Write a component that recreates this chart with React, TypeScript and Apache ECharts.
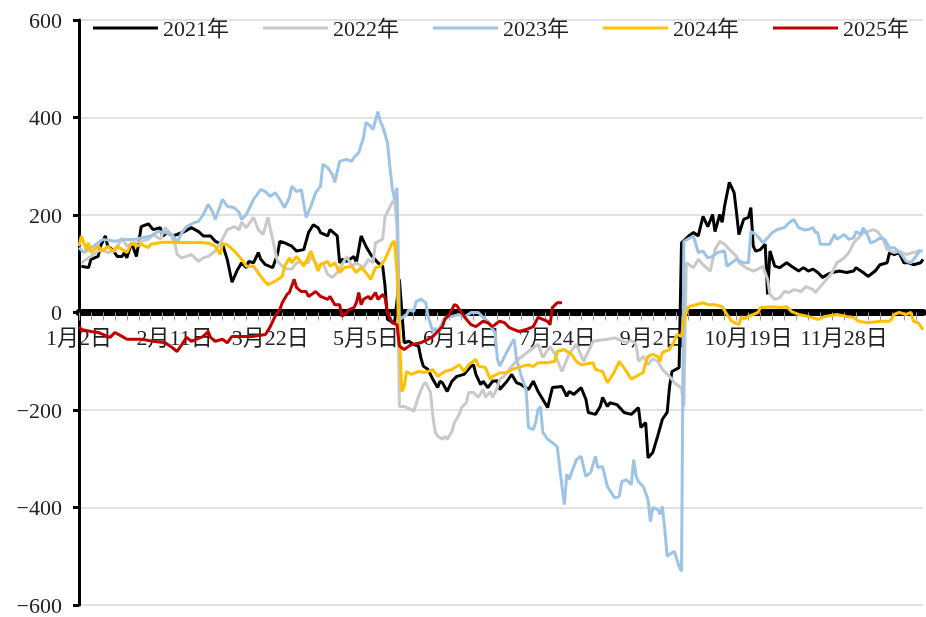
import React, { useEffect, useRef } from "react";
import * as echarts from "echarts";

const MONTH_DAYS = [31, 29, 31, 30, 31, 30, 31, 31, 30, 31, 30, 31];
const CLOSED_DAYS = ["1月1日", "5月1日", "5月2日", "5月3日", "5月4日", "10月1日", "10月2日", "10月3日", "10月4日", "10月5日", "10月6日", "10月7日"];
const categories: string[] = [];
MONTH_DAYS.forEach((n, m) => {
  for (let d = 1; d <= n; d++) {
    const s = `${m + 1}月${d}日`;
    if (!CLOSED_DAYS.includes(s)) categories.push(s);
  }
});

const Y_TICKS = { min: -600, max: 600, interval: 200 };
const SERIES_NAMES = ["2021年", "2022年", "2023年", "2024年", "2025年"];
const SERIES_COLORS = ["#000000", "#c9c9c9", "#9dc3e6", "#ffc000", "#c00000"];

const s2021: [string, number][] = [["1月3日",95],["1月6日",92],["1月7日",109],["1月10日",115],["1月11日",136],["1月13日",157],["1月14日",136],["1月16日",129],["1月18日",115],["1月20日",115],["1月21日",123],["1月22日",112],["1月24日",143],["1月26日",115],["1月27日",143],["1月28日",176],["1月31日",182],["2月2日",170],["2月5日",174],["2月6日",157],["2月8日",164],["2月10日",157],["2月12日",160],["2月15日",166],["2月18日",174],["2月21日",166],["2月23日",157],["2月26日",157],["2月28日",146],["3月2日",140],["3月4日",109],["3月6日",62],["3月8日",85],["3月10日",102],["3月12日",92],["3月13日",105],["3月15日",102],["3月17日",123],["3月18日",109],["3月20日",98],["3月23日",92],["3月25日",119],["3月26日",146],["3月28日",143],["3月31日",136],["4月2日",126],["4月5日",129],["4月7日",164],["4月9日",180],["4月11日",174],["4月12日",164],["4月15日",157],["4月16日",170],["4月19日",157],["4月20日",102],["4月21日",109],["4月23日",105],["4月26日",115],["4月27日",102],["4月29日",157],["5月5日",136],["5月7日",119],["5月10日",102],["5月12日",95],["5月13日",54],["5月14日",-14],["5月16日",-20],["5月17日",-20],["5月19日",68],["5月21日",-62],["5月23日",-59],["5月25日",-66],["5月27日",-69],["5月28日",-93],["5月29日",-110],["5月31日",-117],["6月2日",-137],["6月4日",-154],["6月5日",-141],["6月6日",-144],["6月8日",-162],["6月10日",-141],["6月12日",-131],["6月15日",-127],["6月18日",-110],["6月19日",-107],["6月20日",-127],["6月22日",-148],["6月23日",-141],["6月25日",-154],["6月27日",-141],["6月29日",-140],["6月30日",-158],["7月3日",-141],["7月5日",-127],["7月7日",-144],["7月9日",-148],["7月12日",-158],["7月14日",-141],["7月16日",-162],["7月20日",-195],["7月22日",-154],["7月26日",-152],["7月28日",-172],["7月29日",-162],["7月31日",-168],["8月3日",-154],["8月5日",-178],["8月6日",-205],["8月9日",-209],["8月11日",-193],["8月12日",-174],["8月14日",-193],["8月15日",-185],["8月18日",-189],["8月21日",-205],["8月24日",-209],["8月27日",-195],["8月28日",-236],["8月30日",-226],["8月31日",-298],["9月2日",-287],["9月4日",-254],["9月6日",-219],["9月8日",-205],["9月9日",-152],["9月10日",-121],["9月13日",-113],["9月14日",143],["9月17日",157],["9月19日",164],["9月21日",157],["9月23日",197],["9月25日",176],["9月27日",201],["9月28日",166],["9月30日",201],["10月8日",185],["10月9日",218],["10月11日",267],["10月13日",246],["10月14日",205],["10月15日",160],["10月17日",191],["10月19日",195],["10月20日",215],["10月21日",136],["10月22日",126],["10月24日",129],["10月26日",140],["10月27日",37],["10月28日",126],["10月30日",95],["11月1日",92],["11月4日",102],["11月6日",95],["11月9日",85],["11月11日",92],["11月13日",85],["11月15日",89],["11月17日",82],["11月19日",72],["11月21日",78],["11月23日",82],["11月26日",85],["11月29日",82],["12月2日",85],["12月3日",92],["12月6日",82],["12月8日",74],["12月11日",85],["12月13日",98],["12月16日",102],["12月17日",123],["12月19日",119],["12月21日",123],["12月23日",102],["12月25日",102],["12月27日",98],["12月30日",102],["12月31日",109]];

const s2022: [string, number][] = [["1月3日",102],["1月5日",109],["1月7日",115],["1月10日",126],["1月12日",129],["1月14日",123],["1月17日",126],["1月20日",153],["1月22日",136],["1月25日",143],["1月28日",146],["1月31日",150],["2月2日",160],["2月5日",150],["2月7日",174],["2月9日",164],["2月11日",143],["2月12日",119],["2月14日",112],["2月16日",115],["2月18日",119],["2月21日",105],["2月23日",112],["2月25日",115],["2月28日",126],["3月2日",150],["3月4日",170],["3月7日",176],["3月9日",170],["3月10日",185],["3月12日",174],["3月15日",195],["3月17日",170],["3月19日",160],["3月21日",195],["3月23日",150],["3月25日",105],["3月27日",95],["3月29日",89],["3月31日",89],["4月2日",102],["4月4日",102],["4月7日",102],["4月8日",115],["4月11日",95],["4月13日",102],["4月15日",78],["4月17日",72],["4月19日",82],["4月21日",98],["4月23日",115],["4月25日",95],["4月27日",102],["4月30日",92],["5月6日",109],["5月8日",102],["5月9日",143],["5月12日",150],["5月13日",197],["5月16日",226],["5月17日",232],["5月18日",176],["5月19日",-193],["5月21日",-193],["5月24日",-199],["5月25日",-203],["5月27日",-172],["5月29日",-148],["5月30日",-144],["6月1日",-164],["6月2日",-213],["6月3日",-246],["6月4日",-254],["6月6日",-260],["6月7日",-254],["6月8日",-260],["6月10日",-244],["6月11日",-226],["6月13日",-209],["6月14日",-195],["6月16日",-185],["6月17日",-164],["6月19日",-164],["6月21日",-174],["6月23日",-158],["6月24日",-174],["6月26日",-162],["6月27日",-174],["6月29日",-154],["6月30日",-137],["7月2日",-130],["7月5日",-110],["7月8日",-95],["7月12日",-80],["7月16日",-65],["7月18日",-92],["7月21日",-70],["7月23日",-85],["7月26日",-121],["7月29日",-85],["8月1日",-65],["8月4日",-100],["8月6日",-80],["8月8日",-59],["8月11日",-57],["8月14日",-55],["8月17日",-52],["8月22日",-62],["8月24日",-57],["8月26日",-65],["8月27日",-100],["8月29日",-90],["8月31日",-107],["9月2日",-95],["9月4日",-100],["9月6日",-117],["9月9日",-131],["9月11日",-144],["9月14日",-155],["9月15日",-193],["9月16日",102],["9月19日",92],["9月21日",109],["9月23日",98],["9月26日",85],["9月28日",129],["9月30日",146],["10月9日",140],["10月11日",129],["10月14日",115],["10月15日",102],["10月18日",92],["10月21日",85],["10月23日",89],["10月25日",95],["10月27日",68],["10月28日",37],["10月30日",27],["11月1日",30],["11月3日",43],["11月5日",41],["11月7日",47],["11月10日",43],["11月12日",53],["11月15日",47],["11月16日",41],["11月18日",53],["11月20日",64],["11月23日",82],["11月25日",102],["11月28日",112],["11月30日",123],["12月2日",143],["12月4日",153],["12月6日",164],["12月8日",166],["12月10日",170],["12月12日",166],["12月14日",153],["12月16日",129],["12月19日",123],["12月21日",126],["12月24日",119],["12月27日",123],["12月29日",126],["12月31日",126]];

const s2023: [string, number][] = [["1月2日",133],["1月4日",123],["1月6日",129],["1月8日",136],["1月10日",143],["1月12日",150],["1月17日",146],["1月21日",150],["1月25日",150],["1月28日",153],["2月1日",157],["2月4日",166],["2月7日",164],["2月10日",160],["2月12日",143],["2月14日",164],["2月16日",176],["2月19日",184],["2月21日",187],["2月23日",201],["2月25日",222],["2月27日",205],["2月28日",191],["3月2日",232],["3月4日",218],["3月7日",215],["3月9日",205],["3月10日",191],["3月12日",201],["3月15日",232],["3月18日",252],["3月20日",248],["3月22日",238],["3月24日",246],["3月26日",232],["3月28日",215],["3月30日",236],["3月31日",259],["4月2日",248],["4月4日",252],["4月6日",195],["4月8日",218],["4月10日",246],["4月12日",259],["4月13日",304],["4月15日",297],["4月17日",283],["4月18日",267],["4月20日",310],["4月23日",314],["4月25日",310],["4月26日",318],["4月28日",328],["4月30日",359],["5月5日",390],["5月7日",382],["5月8日",375],["5月10日",412],["5月11日",392],["5月12日",382],["5月14日",349],["5月15日",300],["5月16日",256],["5月17日",232],["5月18日",256],["5月19日",-15],["5月22日",-4],["5月23日",6],["5月25日",2],["5月26日",23],["5月28日",27],["5月30日",20],["5月31日",-8],["6月2日",-39],["6月3日",-32],["6月4日",-41],["6月6日",-21],["6月7日",-10],["6月10日",-8],["6月13日",-4],["6月15日",-10],["6月18日",0],["6月21日",0],["6月23日",-10],["6月25日",-18],["6月27日",-35],["6月28日",-41],["6月29日",-96],["6月30日",-110],["7月2日",-90],["7月5日",-62],["7月6日",-55],["7月7日",-96],["7月9日",-131],["7月11日",-158],["7月12日",-236],["7月14日",-240],["7月15日",-226],["7月16日",-199],["7月17日",-193],["7月18日",-246],["7月20日",-260],["7月22日",-267],["7月24日",-275],["7月25日",-316],["7月26日",-357],["7月27日",-394],["7月28日",-332],["7月29日",-343],["7月30日",-328],["7月31日",-316],["8月1日",-302],["8月3日",-295],["8月4日",-316],["8月5日",-336],["8月7日",-328],["8月9日",-295],["8月10日",-318],["8月12日",-316],["8月14日",-357],["8月17日",-380],["8月19日",-377],["8月20日",-347],["8月22日",-343],["8月24日",-353],["8月25日",-302],["8月26日",-336],["8月27日",-347],["8月29日",-357],["8月31日",-384],["9月1日",-429],["9月2日",-400],["9月4日",-404],["9月5日",-414],["9月6日",-398],["9月7日",-445],["9月8日",-500],["9月9日",-496],["9月11日",-490],["9月13日",-521],["9月14日",-531],["9月15日",146],["9月19日",157],["9月21日",123],["9月23日",126],["9月25日",112],["9月27日",115],["9月29日",123],["10月9日",126],["10月10日",95],["10月12日",102],["10月14日",109],["10月17日",102],["10月19日",102],["10月20日",166],["10月22日",160],["10月24日",150],["10月25日",143],["10月27日",153],["10月29日",164],["10月31日",170],["11月3日",174],["11月5日",184],["11月7日",191],["11月9日",174],["11月11日",170],["11月13日",170],["11月15日",174],["11月16日",164],["11月17日",164],["11月18日",140],["11月22日",140],["11月24日",160],["11月25日",150],["11月28日",160],["11月30日",150],["12月2日",153],["12月3日",166],["12月5日",160],["12月6日",174],["12月8日",157],["12月9日",143],["12月11日",146],["12月13日",153],["12月15日",150],["12月17日",133],["12月19日",133],["12月22日",119],["12月24日",105],["12月26日",102],["12月28日",115],["12月30日",129]];

const s2024: [string, number][] = [["1月2日",136],["1月3日",157],["1月5日",129],["1月6日",143],["1月7日",123],["1月10日",136],["1月12日",126],["1月14日",136],["1月16日",126],["1月18日",136],["1月21日",126],["1月22日",123],["1月24日",143],["1月26日",136],["1月28日",140],["1月31日",133],["2月1日",140],["2月6日",144],["2月11日",144],["2月16日",143],["2月22日",144],["2月26日",141],["2月28日",136],["3月1日",119],["3月2日",141],["3月4日",139],["3月7日",126],["3月10日",109],["3月12日",95],["3月15日",95],["3月18日",74],["3月21日",57],["3月24日",64],["3月27日",74],["3月28日",95],["3月30日",112],["3月31日",102],["4月2日",115],["4月5日",95],["4月8日",126],["4月11日",85],["4月12日",98],["4月15日",105],["4月16日",95],["4月18日",102],["4月20日",82],["4月22日",92],["4月25日",95],["4月27日",82],["4月29日",92],["5月5日",82],["5月7日",68],["5月9日",92],["5月11日",95],["5月13日",109],["5月16日",143],["5月17日",146],["5月18日",82],["5月20日",-162],["5月21日",-152],["5月22日",-121],["5月24日",-127],["5月27日",-121],["5月30日",-123],["6月2日",-117],["6月4日",-131],["6月7日",-121],["6月10日",-117],["6月13日",-107],["6月15日",-121],["6月17日",-107],["6月20日",-96],["6月21日",-110],["6月24日",-113],["6月26日",-137],["6月27日",-131],["6月30日",-124],["7月3日",-123],["7月5日",-117],["7月9日",-111],["7月12日",-107],["7月14日",-111],["7月16日",-103],["7月20日",-103],["7月23日",-100],["7月24日",-80],["7月27日",-76],["7月30日",-86],["8月1日",-100],["8月3日",-107],["8月8日",-103],["8月9日",-117],["8月12日",-121],["8月14日",-144],["8月17日",-121],["8月19日",-100],["8月22日",-121],["8月24日",-137],["8月26日",-131],["8月29日",-123],["8月30日",-103],["8月31日",-90],["9月2日",-86],["9月4日",-90],["9月5日",-100],["9月6日",-82],["9月9日",-76],["9月11日",-59],["9月12日",-45],["9月14日",-49],["9月15日",-14],["9月17日",12],["9月20日",16],["9月23日",20],["9月25日",16],["9月28日",16],["10月8日",12],["10月10日",-4],["10月12日",-18],["10月15日",-25],["10月16日",-8],["10月17日",-14],["10月19日",-8],["10月23日",0],["10月24日",10],["10月29日",12],["11月1日",10],["11月4日",12],["11月6日",2],["11月9日",-4],["11月13日",-8],["11月17日",-14],["11月20日",-8],["11月25日",-4],["11月29日",-8],["12月2日",-10],["12月4日",-18],["12月8日",-21],["12月13日",-18],["12月17日",-18],["12月19日",-4],["12月21日",0],["12月24日",-4],["12月26日",0],["12月27日",-18],["12月29日",-21],["12月31日",-35]];

const s2025: [string, number][] = [["1月2日",-29],["1月3日",-35],["1月7日",-39],["1月10日",-41],["1月12日",-45],["1月15日",-51],["1月17日",-41],["1月20日",-49],["1月22日",-55],["1月28日",-55],["2月2日",-59],["2月7日",-62],["2月10日",-72],["2月12日",-80],["2月14日",-66],["2月16日",-51],["2月18日",-59],["2月20日",-55],["2月23日",-49],["2月25日",-39],["2月26日",-51],["2月28日",-59],["3月2日",-55],["3月4日",-62],["3月6日",-49],["3月10日",-49],["3月15日",-49],["3月20日",-45],["3月22日",-29],["3月24日",-8],["3月26日",6],["3月27日",20],["3月29日",37],["3月30日",41],["4月1日",68],["4月2日",51],["4月4日",43],["4月6日",43],["4月7日",33],["4月10日",43],["4月12日",33],["4月15日",27],["4月16日",33],["4月18日",16],["4月20日",16],["4月21日",-8],["4月23日",0],["4月24日",6],["4月26日",10],["4月27日",20],["4月28日",41],["4月29日",16],["4月30日",27],["5月6日",33],["5月7日",27],["5月9日",41],["5月10日",27],["5月12日",37],["5月13日",30],["5月14日",0],["5月16日",-21],["5月18日",-25],["5月19日",-69],["5月21日",-76],["5月23日",-69],["5月24日",-66],["5月28日",-62],["5月31日",-55],["6月2日",-49],["6月4日",-39],["6月6日",-29],["6月7日",-14],["6月9日",-4],["6月11日",16],["6月12日",14],["6月14日",0],["6月16日",-14],["6月18日",-25],["6月20日",-29],["6月23日",-18],["6月25日",-21],["6月27日",-29],["6月29日",-21],["6月30日",-18],["7月2日",-21],["7月4日",-31],["7月6日",-35],["7月8日",-39],["7月11日",-35],["7月14日",-29],["7月16日",-10],["7月18日",-14],["7月20日",-18],["7月21日",-25],["7月22日",10],["7月24日",20],["7月26日",20]];

const SERIES_DATA = [s2021, s2022, s2023, s2024, s2025];

const FONT = "'Liberation Serif', 'Noto Sans CJK SC', serif";
const CHART_W = 926;
const CHART_H = 617;
const GRID = { left: 79, right: 3, top: 20, bottom: 12 };
// the category axis sits on the value 0 line: shift it up from the grid bottom
const PLOT_H = CHART_H - GRID.top - GRID.bottom;
const ZERO_OFFSET = -PLOT_H * (0 - Y_TICKS.min) / (Y_TICKS.max - Y_TICKS.min);

export default function App() {
  const ref = useRef<HTMLDivElement>(null);
  useEffect(() => {
    if (!ref.current) return;
    const chart = echarts.init(ref.current, null, { renderer: "svg" });
    chart.setOption({
      animation: false,
      textStyle: { fontFamily: FONT },
      grid: { ...GRID, containLabel: false, outerBoundsMode: "none" },
      legend: {
        data: SERIES_NAMES,
        left: 93,
        top: 17,
        padding: 0,
        icon: "rect",
        itemWidth: 65,
        itemHeight: 3,
        itemGap: 34,
        textStyle: { fontSize: 22, fontFamily: FONT, color: "#222" },
      },
      xAxis: {
        type: "category",
        data: categories,
        boundaryGap: false,
        position: "bottom",
        offset: ZERO_OFFSET,
        axisLine: { onZero: false, lineStyle: { color: "#000", width: 7 } },
        axisTick: { show: true, interval: 4, length: 8, lineStyle: { color: "#9a9a9a", width: 1 } },
        axisLabel: { interval: 39, fontSize: 22, fontFamily: FONT, color: "#222", margin: 14 },
        splitLine: { show: false },
      },
      yAxis: {
        type: "value",
        min: Y_TICKS.min,
        max: Y_TICKS.max,
        interval: Y_TICKS.interval,
        axisLine: { show: true, lineStyle: { color: "#000", width: 3 } },
        axisTick: { show: true, length: 6, lineStyle: { color: "#000", width: 3 } },
        axisLabel: {
          fontSize: 22,
          fontFamily: FONT,
          color: "#222",
          margin: 17,
          formatter: (v: number) => (v < 0 ? "\u2212" + Math.abs(v) : String(v)),
        },
        splitLine: { show: true, lineStyle: { color: "#d9d9d9", width: 1.5 } },
      },
      series: SERIES_NAMES.map((name, i) => ({
        name,
        type: "line",
        data: SERIES_DATA[i],
        symbol: "none",
        lineStyle: { color: SERIES_COLORS[i], width: 3 },
        itemStyle: { color: SERIES_COLORS[i] },
      })),
    });
    return () => chart.dispose();
  }, []);
  return <div ref={ref} style={{ position: "fixed", left: 0, top: 0, width: CHART_W, height: CHART_H }} />;
}
